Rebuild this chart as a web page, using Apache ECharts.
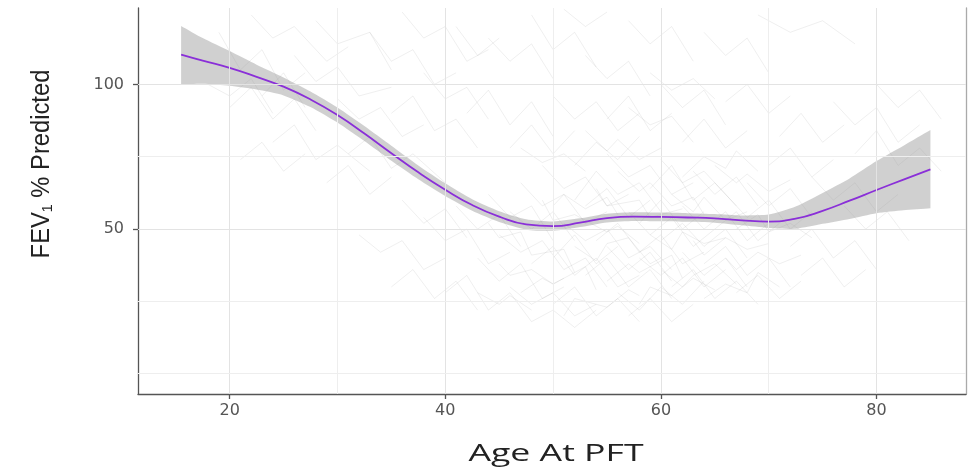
<!DOCTYPE html>
<html>
<head>
<meta charset="utf-8">
<script src="https://cdn.jsdelivr.net/npm/echarts@6/dist/echarts.min.js"></script>
<style>
  html, body { margin: 0; padding: 0; background: #fff; }
  #chart { width: 974px; height: 469px; }
</style>
</head>
<body>
<div id="chart"></div>
<script>
// loess fit + 95% band
const AGE = [15.5, 17.5, 20, 22.5, 25, 27.5, 30, 32.5, 35, 37.5, 40, 42.5, 45, 47.5, 50, 52.5, 55, 57.5, 60, 62.5, 65, 67.5, 70, 72.5, 75, 77.5, 80, 82.5, 85];
const FIT = [110.3, 108.2, 105.7, 102.6, 99.2, 94.8, 89.4, 83.0, 76.2, 69.6, 63.6, 58.3, 54.3, 51.6, 51.0, 52.2, 53.8, 54.3, 54.2, 54.0, 53.7, 53.0, 52.6, 53.6, 56.3, 59.8, 63.5, 67.1, 70.6];
const UPPER = [120.2, 116.0, 111.5, 106.8, 102.4, 97.5, 92.0, 85.6, 78.8, 72.0, 65.8, 60.3, 56.2, 53.4, 52.6, 53.7, 55.3, 55.8, 55.7, 55.5, 55.2, 54.7, 55.0, 57.8, 62.5, 67.5, 73.5, 78.8, 84.2];
const LOWER = [100.0, 100.2, 99.5, 98.2, 96.2, 92.2, 86.8, 80.4, 73.6, 67.2, 61.4, 56.3, 52.4, 49.8, 49.4, 50.7, 52.3, 52.8, 52.7, 52.5, 52.2, 51.3, 50.4, 50.1, 51.8, 53.5, 55.5, 56.5, 57.2];

// individual patient trajectories (age, FEV1 %), rough reading of the faint background lines
const TRAJ = [
  [[19,118],[21,105],[23,112],[25,98],[27,104]],
  [[20,92],[22,99],[24,88],[26,95],[28,84]],
  [[22,124],[24,116],[26,120],[29,108],[31,113]],
  [[24,80],[26,86],[28,74],[30,79],[33,70]],
  [[26,110],[28,101],[30,106],[32,96],[35,99]],
  [[28,122],[30,114],[33,118],[35,105]],
  [[30,95],[32,88],[34,92],[36,82],[38,86]],
  [[31,76],[33,82],[35,71],[37,76],[40,66]],
  [[33,118],[35,108],[37,112],[39,100],[41,104]],
  [[35,90],[37,96],[39,84],[41,88],[43,78]],
  [[18,100],[20,96],[22,102],[24,90]],
  [[21,74],[23,80],[25,70],[27,76]],
  [[36,125],[38,116],[40,120],[42,108],[44,112]],
  [[29,66],[31,72],[33,62],[35,68]],
  [[23,96],[25,104],[27,92]],
  [[38,104],[40,95],[42,99],[44,88]],
  [[32,48],[34,42],[36,46],[38,36],[40,40]],
  [[35,30],[37,36],[39,26],[41,32],[43,22]],
  [[38,54],[40,46],[42,50],[44,38],[46,42]],
  [[40,28],[42,34],[44,22],[46,28],[48,18]],
  [[41,58],[43,50],[45,55],[47,44]],
  [[36,60],[38,52],[40,57],[42,47]],
  [[43,40],[45,32],[47,38],[49,26],[51,30]],
  [[44,62],[46,54],[48,58],[50,46]],
  [[45,48],[47,42],[49,46],[51,36],[53,40],[55,30]],
  [[46,30],[48,24],[50,28],[52,20],[54,24]],
  [[47,66],[49,58],[51,62],[53,52],[55,56]],
  [[48,38],[50,44],[52,34],[54,40],[56,30],[58,34]],
  [[49,72],[51,64],[53,68],[55,58],[57,62]],
  [[50,24],[52,30],[54,20],[56,26],[58,18]],
  [[51,52],[53,46],[55,50],[57,40],[59,44],[61,36]],
  [[52,60],[54,70],[56,62],[58,66],[60,56]],
  [[53,34],[55,40],[57,30],[59,36],[61,26]],
  [[54,46],[56,52],[58,42],[60,48],[62,38],[64,42]],
  [[55,76],[57,68],[59,72],[61,62],[63,66]],
  [[56,28],[58,22],[60,30],[62,24],[64,32]],
  [[57,56],[59,48],[61,54],[63,44],[65,50]],
  [[58,40],[60,34],[62,40],[64,30],[66,36]],
  [[59,64],[61,72],[63,60],[65,66],[67,58]],
  [[60,46],[62,52],[64,44],[66,50],[68,40]],
  [[61,30],[63,36],[65,26],[67,32],[69,24]],
  [[62,58],[64,50],[66,56],[68,46],[70,52]],
  [[63,70],[65,62],[67,68],[69,58]],
  [[64,38],[66,44],[68,34],[70,40],[72,30]],
  [[65,50],[67,56],[69,46],[71,52]],
  [[66,62],[68,54],[70,60],[72,50],[74,56]],
  [[46,56],[48,50],[50,56],[52,46]],
  [[48,18],[50,22],[52,16],[54,22]],
  [[53,58],[55,64],[57,54],[59,60]],
  [[57,20],[59,26],[61,18],[63,24]],
  [[50,40],[52,48],[54,38],[56,44]],
  [[67,28],[69,34],[71,26],[73,32]],
  [[55,44],[57,36],[59,42],[61,32]],
  [[62,42],[64,34],[66,40],[68,30]],
  [[58,52],[60,60],[62,50],[64,56]],
  [[68,66],[70,58],[72,64],[74,54]],
  [[60,74],[62,66],[64,70],[66,62]],
  [[52,72],[54,80],[56,74],[58,82]],
  [[42,90],[44,98],[46,86],[48,94],[50,82]],
  [[44,116],[46,108],[48,114],[50,102]],
  [[46,78],[48,86],[50,76],[52,84]],
  [[48,124],[50,112],[52,118],[54,106]],
  [[50,96],[52,88],[54,94],[56,84],[58,90]],
  [[53,110],[55,102],[57,108],[59,96]],
  [[55,88],[57,96],[59,84],[61,90]],
  [[57,122],[59,114],[61,120],[63,108]],
  [[60,100],[62,92],[64,98],[66,86]],
  [[62,80],[64,88],[66,78],[68,84]],
  [[64,118],[66,110],[68,116],[70,104]],
  [[66,94],[68,100],[70,90],[72,96]],
  [[69,124],[72,118],[75,122],[78,114]],
  [[71,82],[73,90],[75,80],[77,86]],
  [[41,120],[43,110],[45,116]],
  [[51,126],[53,120],[55,125]],
  [[72,44],[74,50],[76,40],[78,46],[80,36]],
  [[74,68],[76,60],[78,66],[80,56],[82,62]],
  [[76,94],[78,86],[80,92],[82,80],[84,86]],
  [[73,34],[75,40],[77,30],[79,36]],
  [[78,76],[80,84],[82,72],[84,78],[86,70]],
  [[77,58],[79,50],[81,56],[83,46]],
  [[80,100],[82,92],[84,98],[86,88]],
  [[70,72],[72,78],[74,68],[76,74]],
  [[44,52],[45,47],[47,49],[48,41],[51,43],[52,35]],
  [[47,28],[49,33],[50,31],[53,37],[54,29]],
  [[49,60],[50,53],[52,55],[55,49],[56,51],[58,45]],
  [[51,20],[52,26],[55,23],[57,29],[58,27]],
  [[52,44],[54,39],[55,45],[57,47],[59,38],[60,40]],
  [[54,64],[55,58],[58,60],[59,54],[62,57]],
  [[55,32],[57,38],[58,35],[61,41],[62,33]],
  [[56,70],[58,63],[59,66],[61,58],[63,61],[64,55]],
  [[58,24],[59,30],[61,27],[63,33],[65,29]],
  [[59,48],[61,43],[62,49],[64,45],[66,47]],
  [[60,36],[62,30],[63,34],[65,38],[67,31]],
  [[61,62],[63,56],[64,61],[66,53],[68,56]],
  [[63,46],[64,41],[66,47],[68,43],[70,45]],
  [[64,26],[66,31],[68,28],[69,35],[71,30]],
  [[65,72],[67,66],[68,69],[70,63],[72,67]],
  [[66,40],[67,36],[69,42],[71,38],[73,41]],
  [[47,78],[49,73],[51,76],[53,70]],
  [[53,84],[55,77],[56,81],[58,74],[60,78]],
  [[57,92],[59,86],[61,89],[63,80]],
  [[45,38],[46,34],[48,36],[50,31],[51,33]],
  [[50,58],[51,62],[53,57],[55,61],[56,55]],
  [[62,68],[64,75],[66,71],[67,77],[69,70]],
  [[59,104],[61,98],[63,102],[65,95]],
  [[67,50],[69,55],[70,49],[72,52],[74,47]],
  [[43,28],[45,24],[46,27],[48,22]]
];

const X_MAJOR = [20, 40, 60, 80];
const X_MINOR = [30, 50, 70];
const Y_MAJOR = [50, 100];
const Y_MINOR = [0, 25, 75];
const X_MIN = 11.5, X_MAX = 88.3, Y_MIN = -7, Y_MAX = 126.4;

(() => {
  "use strict";
  const chart = echarts.init(document.getElementById("chart"), null, { renderer: "canvas" });
  const pair = (xs, ys) => xs.map((x, i) => [x, ys[i]]);
  const AXC = "#555";
  const LBL = { color: "#555", fontSize: 16, fontFamily: "DejaVu Sans" };

  const gridLines = [
    ...X_MAJOR.map(v => ({ xAxis: v, lineStyle: { color: "#e3e3e3" } })),
    ...X_MINOR.map(v => ({ xAxis: v, lineStyle: { color: "#eeeeee" } })),
    ...Y_MAJOR.map(v => ({ yAxis: v, lineStyle: { color: "#e3e3e3" } })),
    ...Y_MINOR.map(v => ({ yAxis: v, lineStyle: { color: "#eeeeee" } })),
  ];

  const spaghetti = TRAJ.map(t => ({
    type: "line", data: t, symbol: "none", silent: true, z: 1,
    lineStyle: { color: "rgba(130,130,130,0.16)", width: 0.8 },
  }));

  // confidence band as one smoothed polygon; end points doubled so the ends stay square
  const dup = pts => [pts[0]].concat(pts, [pts[pts.length - 1]]);
  const band = {
    type: "custom", data: [[AGE[0], FIT[0]]], silent: true, z: 2,
    renderItem: (params, api) => {
      const up = dup(AGE.map((a, i) => api.coord([a, UPPER[i]])));
      const lo = dup(AGE.map((a, i) => api.coord([a, LOWER[i]])).reverse());
      return { type: "polygon", shape: { points: up.concat(lo), smooth: 0.2 }, style: { fill: "rgba(150,150,150,0.45)" } };
    },
  };

  chart.setOption({
    animation: false,
    grid: { left: 138, right: 8, top: 8, bottom: 75, outerBoundsMode: "none" },
    xAxis: {
      type: "value", min: X_MIN, max: X_MAX,
      splitLine: { show: false },
      axisLine: { show: true, onZero: false, lineStyle: { color: AXC, width: 1.3 } },
      axisTick: { show: true, customValues: X_MAJOR, length: 5, lineStyle: { color: AXC, width: 1.3 } },
      axisLabel: Object.assign({ customValues: X_MAJOR, margin: 9 }, LBL),
    },
    yAxis: [{
      type: "value", min: Y_MIN, max: Y_MAX,
      splitLine: { show: false },
      axisLine: { show: true, onZero: false, lineStyle: { color: AXC, width: 1.3 } },
      axisTick: { show: true, customValues: Y_MAJOR, length: 5, lineStyle: { color: AXC, width: 1.3 } },
      axisLabel: Object.assign({ customValues: Y_MAJOR, margin: 14 }, LBL),
    }, {
      type: "value", position: "right", min: Y_MIN, max: Y_MAX,
      splitLine: { show: false }, axisTick: { show: false }, axisLabel: { show: false },
      axisLine: { show: true, onZero: false, lineStyle: { color: "#aaa", width: 1.3 } },
    }],
    graphic: [{
      type: "text", x: 556, y: 454, scaleX: 1.55, silent: true,
      style: { text: "Age At PFT", fontFamily: "Open Sans", fontSize: 23, fill: "#222", align: "center", verticalAlign: "middle" },
    }, {
      type: "text", x: 41, y: 164, rotation: Math.PI / 2, scaleX: 0.95, silent: true,
      style: {
        text: "{a|FEV}{s|1}{a| % Predicted}", align: "center", verticalAlign: "middle",
        rich: {
          a: { fontFamily: "Liberation Sans", fontSize: 25, fill: "#222", verticalAlign: "bottom", lineHeight: 28 },
          s: { fontFamily: "Liberation Sans", fontSize: 15, fill: "#222", verticalAlign: "bottom", lineHeight: 10 },
        },
      },
    }],
    series: [
      {
        type: "line", data: [[X_MIN, Y_MIN]], symbol: "none", silent: true, z: 0, lineStyle: { opacity: 0 },
        markLine: { silent: true, symbol: ["none", "none"], label: { show: false }, animation: false,
          lineStyle: { type: "solid", width: 1 }, emphasis: { disabled: true }, data: gridLines },
      },
      ...spaghetti,
      band,
      {
        type: "line", data: pair(AGE, FIT), smooth: true, symbol: "none", silent: true, z: 3,
        lineStyle: { color: "#8a2fd8", width: 1.8 },
      },
    ],
  });
})();
</script>
</body>
</html>
